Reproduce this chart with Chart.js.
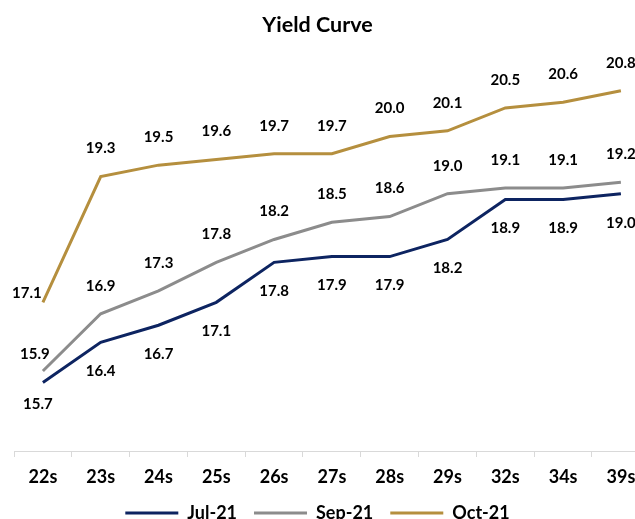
<!DOCTYPE html>
<html>
<head>
<meta charset="utf-8">
<title>Yield Curve</title>
<script src="https://cdn.jsdelivr.net/npm/chart.js@4/dist/chart.umd.min.js"></script>
<style>
  html, body { margin: 0; padding: 0; background: #ffffff; overflow: hidden; }
  #wrap { width: 635px; height: 519px; position: relative; }
</style>
</head>
<body>
<div id="wrap"><canvas id="chart" width="635" height="519"></canvas></div>
<script>
// Bond tenors along the curve
const categories = ['22s', '23s', '24s', '25s', '26s', '27s', '28s', '29s', '32s', '34s', '39s'];

// Yields (%) per snapshot month
const jul21 = [15.7, 16.4, 16.7, 17.1, 17.8, 17.9, 17.9, 18.2, 18.9, 18.9, 19.0];
const sep21 = [15.9, 16.9, 17.3, 17.8, 18.2, 18.5, 18.6, 19.0, 19.1, 19.1, 19.2];
const oct21 = [17.1, 19.3, 19.5, 19.6, 19.7, 19.7, 20.0, 20.1, 20.5, 20.6, 20.8];

const seriesNames = ['Jul-21', 'Sep-21', 'Oct-21'];

const FONT = 'Lato, "Open Sans", sans-serif';

const toPoints = arr => arr.map((v, i) => ({ x: i, y: v }));

// Value labels: Oct and Sep sit above their line, Jul below
const labelPlacement = [
  { dy: 29, first: { dx: -5, dy: 22 } },
  { dy: -28, first: { dx: -8, dy: -17 } },
  { dy: -28, first: { dx: -16, dy: -9 } }
];

const valueLabels = {
  id: 'valueLabels',
  afterDatasetsDraw(chart) {
    const ctx = chart.ctx;
    ctx.save();
    ctx.font = 'bold 15px ' + FONT;
    ctx.fillStyle = '#000000';
    ctx.textAlign = 'center';
    ctx.textBaseline = 'middle';
    chart.data.datasets.forEach((ds, di) => {
      const meta = chart.getDatasetMeta(di);
      const place = labelPlacement[di];
      meta.data.forEach((pt, i) => {
        const off = i === 0 ? place.first : { dx: 0, dy: place.dy };
        ctx.fillText(ds.data[i].y.toFixed(1), pt.x + off.dx, pt.y + off.dy);
      });
    });
    ctx.restore();
  }
};

new Chart(document.getElementById('chart'), {
  type: 'line',
  data: {
    datasets: [
      { label: seriesNames[0], data: toPoints(jul21), borderColor: '#0d2461', backgroundColor: '#0d2461', borderWidth: 3 },
      { label: seriesNames[1], data: toPoints(sep21), borderColor: '#8c8c8c', backgroundColor: '#8c8c8c', borderWidth: 3 },
      { label: seriesNames[2], data: toPoints(oct21), borderColor: '#b58f3e', backgroundColor: '#b58f3e', borderWidth: 3 }
    ]
  },
  options: {
    responsive: false,
    animation: false,
    devicePixelRatio: 1,
    layout: { padding: { left: 0, right: 0, top: 0, bottom: -13 } },
    elements: {
      line: { borderWidth: 3, tension: 0, borderCapStyle: 'butt', borderJoinStyle: 'miter' },
      point: { radius: 0, hoverRadius: 0 }
    },
    scales: {
      x: {
        type: 'linear',
        min: -0.5,
        max: 10.244,
        afterBuildTicks: scale => { scale.ticks = categories.map((c, i) => ({ value: i })); },
        afterFit: scale => { scale.paddingLeft = 0; scale.paddingRight = 0; scale.height -= 10; },
        ticks: {
          autoSkip: false,
          maxRotation: 0,
          padding: 11,
          color: '#000000',
          font: { family: FONT, size: 18, weight: 'bold', lineHeight: 1 },
          callback: v => categories[v]
        },
        grid: { offset: true, drawOnChartArea: false, drawTicks: true, tickLength: 6, color: '#d9d9d9', lineWidth: 1 },
        border: { display: true, color: '#d9d9d9', width: 1 }
      },
      y: {
        display: true,
        min: 14.5,
        max: 21.5,
        ticks: { display: false },
        grid: { display: false },
        border: { display: false },
        afterFit: scale => { scale.width = 14; }
      }
    },
    plugins: {
      title: {
        display: true,
        text: 'Yield Curve',
        color: '#000000',
        font: { family: FONT, size: 21.5, weight: 'bold' },
        padding: { top: 12, bottom: 13 }
      },
      legend: {
        position: 'bottom',
        labels: {
          usePointStyle: true,
          pointStyle: 'line',
          pointStyleWidth: 53,
          color: '#000000',
          font: { family: FONT, size: 18, weight: 'bold' },
          padding: 17
        }
      },
      tooltip: { enabled: false }
    }
  },
  plugins: [valueLabels]
});
</script>
</body>
</html>
